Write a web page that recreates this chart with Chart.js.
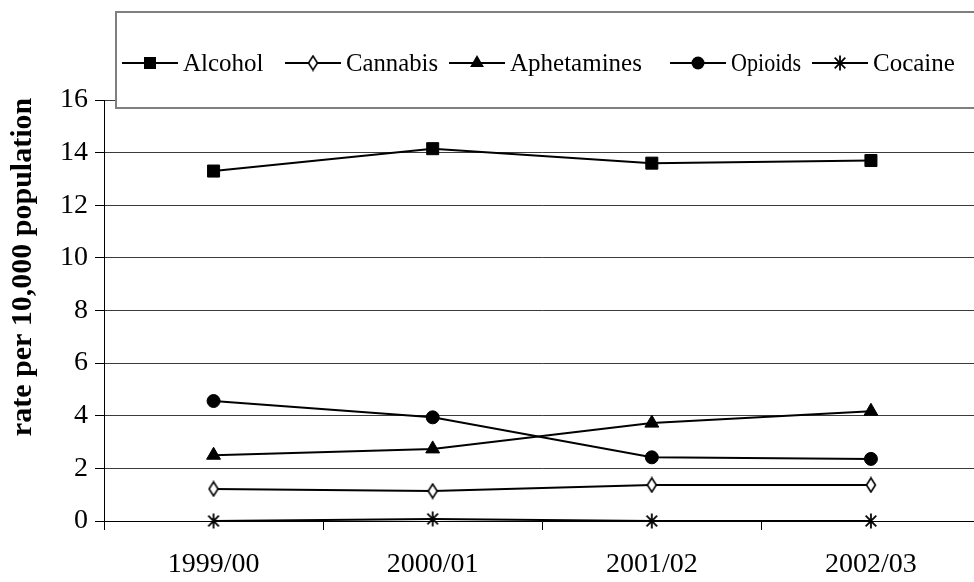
<!DOCTYPE html>
<html><head><meta charset="utf-8">
<script src="https://cdn.jsdelivr.net/npm/chart.js@4/dist/chart.umd.min.js"></script>
<style>html,body{margin:0;padding:0;background:#fff;overflow:hidden;width:974px;height:582px;}</style>
</head><body>
<canvas id="c" width="990" height="582"></canvas>
<script>
// ---- data ----
const categories = ['1999/00', '2000/01', '2001/02', '2002/03'];
const alcohol = [13.3, 14.15, 13.6, 13.7];
const cannabis = [1.22, 1.14, 1.37, 1.37];
const amphetamines = [2.5, 2.74, 3.72, 4.17];
const opioids = [4.56, 3.94, 2.42, 2.36];
const cocaine = [0, 0.08, 0, 0];
const seriesNames = ['Alcohol', 'Cannabis', 'Aphetamines', 'Opioids', 'Cocaine'];
const yMin = 0, yMax = 16, yStep = 2;
const yTitle = 'rate per 10,000 population';

// ---- custom marker images ----
function diamondImg() {
  const c = document.createElement('canvas'); c.width = 12; c.height = 17;
  const g = c.getContext('2d');
  g.beginPath(); g.moveTo(6, 1.5); g.lineTo(10.5, 8.5); g.lineTo(6, 15.5); g.lineTo(1.5, 8.5); g.closePath();
  g.fillStyle = '#fff'; g.fill(); g.lineWidth = 1.6; g.strokeStyle = '#000'; g.stroke();
  return c;
}
function asteriskImg() {
  const c = document.createElement('canvas'); c.width = 18; c.height = 18;
  const g = c.getContext('2d');
  g.strokeStyle = '#000'; g.lineWidth = 1.8;
  const r = 7.5, cx = 9, cy = 9;
  [90, 45, 135].forEach(a => {
    const t = a * Math.PI / 180;
    g.beginPath(); g.moveTo(cx - r * Math.cos(t), cy + r * Math.sin(t)); g.lineTo(cx + r * Math.cos(t), cy - r * Math.sin(t)); g.stroke();
  });
  return c;
}
const dImg = diamondImg(), aImg = asteriskImg();

const styles = [
  {pointStyle: 'rect', pointRadius: 8.5},
  {pointStyle: dImg, pointRadius: 7},
  {pointStyle: 'triangle', pointRadius: 8},
  {pointStyle: 'circle', pointRadius: 6.5},
  {pointStyle: aImg, pointRadius: 8}
];
const seriesData = [alcohol, cannabis, amphetamines, opioids, cocaine];

const datasets = seriesData.map((d, i) => Object.assign({
  label: seriesNames[i],
  data: d,
  borderColor: '#000',
  borderWidth: 2,
  backgroundColor: '#000',
  pointBackgroundColor: '#000',
  pointBorderColor: '#000',
  pointBorderWidth: 1,
  tension: 0,
  fill: false,
  clip: false
}, styles[i]));

const FONT = 'Liberation Serif';

function drawMarker(g, idx, x, y) {
  g.save();
  g.fillStyle = '#000'; g.strokeStyle = '#000';
  if (idx === 0) { g.fillRect(x - 6, y - 6, 12, 12); }
  else if (idx === 1) { g.drawImage(dImg, x - dImg.width / 2, y - dImg.height / 2); }
  else if (idx === 2) {
    const r = 8; g.beginPath();
    for (let k = 0; k < 3; k++) { const a = -Math.PI / 2 + k * 2 * Math.PI / 3; const px = x + r * Math.cos(a), py = y + r * Math.sin(a); k ? g.lineTo(px, py) : g.moveTo(px, py); }
    g.closePath(); g.fill();
  }
  else if (idx === 3) { g.beginPath(); g.arc(x, y, 6.5, 0, Math.PI * 2); g.fill(); }
  else { g.drawImage(aImg, x - aImg.width / 2, y - aImg.height / 2); }
  g.restore();
}

const legendPlugin = {
  id: 'boxLegend',
  afterDraw(chart) {
    const g = chart.ctx;
    g.save();
    g.fillStyle = '#fff';
    g.fillRect(116, 12, 880, 96);
    g.strokeStyle = '#808080'; g.lineWidth = 2;
    g.strokeRect(116, 12, 880, 96);
    const starts = [122, 285, 449, 670, 812];
    const maxW = [84, 92, 142, 70, 98];
    const ly = 63;
    g.font = '25px "' + FONT + '"';
    g.textBaseline = 'middle'; g.textAlign = 'left';
    seriesNames.forEach((n, i) => {
      const x0 = starts[i];
      g.strokeStyle = '#000'; g.lineWidth = 2;
      g.beginPath(); g.moveTo(x0, ly); g.lineTo(x0 + 56, ly); g.stroke();
      drawMarker(g, i, x0 + 28, ly);
      g.fillStyle = '#000';
      g.fillText(n, x0 + 61, ly + 1, maxW[i]);
    });
    // y axis title
    g.translate(23, 267);
    g.rotate(-Math.PI / 2);
    g.font = 'bold 30px "' + FONT + '"';
    g.textAlign = 'center'; g.textBaseline = 'middle';
    g.fillStyle = '#000';
    g.fillText(yTitle, 0, 0);
    g.restore();
  }
};

new Chart(document.getElementById('c'), {
  type: 'line',
  data: { labels: categories, datasets: datasets },
  options: {
    responsive: false,
    animation: false,
    devicePixelRatio: 1,
    layout: { padding: { top: 100, right: 0, left: 0, bottom: 0 } },
    plugins: { legend: { display: false }, tooltip: { enabled: false } },
    scales: {
      x: {
        offset: true,
        grid: { offset: true, drawOnChartArea: false, tickLength: 9, color: '#000', lineWidth: 1 },
        border: { color: '#000', width: 1 },
        ticks: { font: { family: FONT, size: 28 }, color: '#000', padding: 18, maxRotation: 0 },
        afterFit(s) { s.height = 61; s.paddingRight = 0; s.paddingLeft = 0; }
      },
      y: {
        min: yMin, max: yMax,
        ticks: { stepSize: yStep, font: { family: FONT, size: 28 }, color: '#000', padding: 7 },
        grid: { color: '#3a3a3a', lineWidth: 1, tickLength: 9, tickColor: '#000' },
        border: { color: '#000', width: 1 },
        afterFit(s) { s.width = 104; }
      }
    }
  },
  plugins: [legendPlugin]
});
</script>
</body></html>
